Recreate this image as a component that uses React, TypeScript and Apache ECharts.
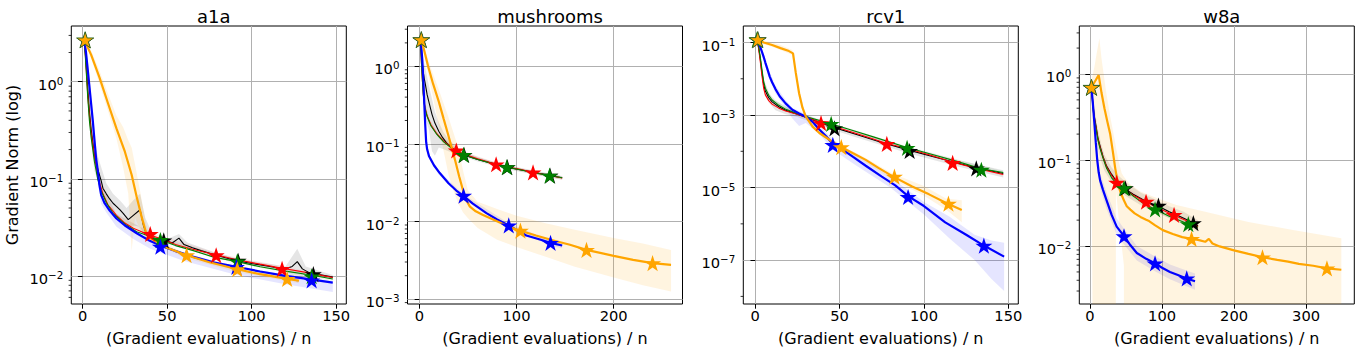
import React, { useEffect, useRef } from 'react';
import * as echarts from 'echarts';

// ---------------- data ----------------
// a1a
const a1aBlack = [[1,2.7],[2,1.6],[3,0.85],[4,0.5],[5,0.33],[6,0.24],[7,0.17],[9,0.125],[11,0.095],[12,0.08],[14,0.07],[16,0.062],[18,0.056],[20,0.052],[22,0.048],[24,0.044],[27,0.038],[30,0.042],[34,0.048],[36,0.033],[38,0.026],[42,0.024],[46,0.0235],[50,0.0228],[53,0.0218],[57,0.0245],[60,0.021],[65,0.0195],[70,0.0182],[78,0.0165],[85,0.0153],[92,0.0142],[100,0.0134],[108,0.0127],[115,0.0121],[120,0.0118],[124,0.0125],[127,0.014],[130,0.0118],[134,0.0108],[140,0.0103],[148,0.0097]];
const a1aBlackBand = [[1,2.6,2.8],[3,0.6,1.1],[5,0.24,0.45],[7,0.12,0.23],[10,0.085,0.15],[14,0.055,0.09],[18,0.045,0.07],[22,0.039,0.06],[26,0.032,0.05],[30,0.033,0.06],[34,0.032,0.07],[37,0.025,0.04],[42,0.0225,0.0255],[50,0.0215,0.024],[57,0.021,0.027],[62,0.0195,0.022],[78,0.0155,0.0175],[92,0.0135,0.015],[110,0.0122,0.0133],[120,0.0112,0.0125],[127,0.0085,0.019],[132,0.0108,0.0125],[148,0.0092,0.0102]];
const a1aBlackStars = [[1.5,2.7],[48,0.0232],[92,0.0143],[136.5,0.0104]];
const a1aRed = [[1,2.7],[2,1.5],[3,0.75],[4,0.45],[5,0.3],[7,0.17],[9,0.105],[12,0.07],[15,0.054],[20,0.042],[25,0.035],[30,0.031],[38,0.027],[45,0.0245],[55,0.021],[65,0.0188],[78,0.0166],[90,0.0148],[105,0.0132],[118,0.012],[133,0.0108],[148,0.0096]];
const a1aRedBand = [[1,2.6,2.8],[5,0.27,0.33],[10,0.085,0.1],[20,0.04,0.044],[40,0.0255,0.028],[80,0.0157,0.017],[120,0.0115,0.0124],[148,0.0092,0.0099]];
const a1aRedStars = [[1.5,2.7],[40,0.027],[79,0.0163],[118,0.0118]];
const a1aGreen = [[1,2.7],[2,1.4],[3,0.7],[4,0.4],[5,0.27],[7,0.15],[9,0.098],[11,0.075],[14,0.057],[18,0.044],[25,0.034],[32,0.0285],[40,0.0255],[46,0.0234],[55,0.0205],[65,0.0183],[78,0.0155],[91,0.0141],[105,0.0124],[120,0.0112],[135,0.0102],[148,0.0093]];
const a1aGreenBand = [[1,2.6,2.8],[5,0.24,0.3],[10,0.078,0.092],[20,0.039,0.043],[46,0.0222,0.0245],[91,0.0134,0.0148],[148,0.0088,0.0097]];
const a1aGreenStars = [[1.5,2.7],[46,0.0234],[91.5,0.0141],[135.5,0.0099]];
const a1aBlue = [[1,2.7],[2,2.0],[3,1.35],[4,0.9],[5,0.6],[6,0.4],[7,0.25],[8,0.16],[9,0.12],[10,0.085],[11,0.068],[13,0.056],[16,0.047],[20,0.039],[25,0.033],[32,0.0275],[40,0.0228],[46,0.0205],[55,0.018],[65,0.0158],[78,0.0137],[91,0.0124],[105,0.0111],[120,0.01],[135,0.0092],[148,0.0085]];
const a1aBlueBand = [[1,2.6,2.8],[3,1.0,1.7],[5,0.45,0.75],[7,0.19,0.32],[9,0.09,0.15],[11,0.055,0.08],[14,0.045,0.058],[20,0.032,0.041],[30,0.024,0.03],[40,0.019,0.0235],[60,0.0142,0.0172],[90,0.0103,0.0126],[120,0.0082,0.0103],[148,0.0068,0.0088]];
const a1aBlueStars = [[1.5,2.7],[46,0.02],[91,0.0124],[135.5,0.009]];
const a1aOrange = [[1,2.7],[5,1.9],[10,1.1],[15,0.6],[20,0.33],[25,0.19],[29,0.11],[32,0.065],[35,0.04],[37.5,0.028],[40,0.0245],[50,0.0195],[61.5,0.0163],[75,0.0138],[91.5,0.0117],[105,0.0104],[121,0.0093],[128,0.0089]];
const a1aOrangeBand = [[1,2.6,2.85],[5,1.75,2.1],[10,0.95,1.3],[15,0.5,0.75],[20,0.26,0.45],[24,0.13,0.34],[27,0.07,0.25],[29,0.018,0.21],[31,0.04,0.14],[34,0.03,0.075],[37.5,0.024,0.034],[40,0.023,0.026],[60,0.0155,0.0172],[90,0.011,0.0124],[128,0.0084,0.0094]];
const a1aOrangeStars = [[1.5,2.7],[61.5,0.0163],[91.5,0.0117],[121,0.0093]];

// mushrooms
const mushBlack = [[1,2.2],[2,1.6],[3,1.1],[4,0.85],[5,0.7],[6,0.6],[8,0.43],[10,0.34],[13,0.24],[16,0.185],[20,0.145],[24,0.12],[28,0.103],[33,0.09],[37,0.081],[46,0.072],[60,0.063],[80,0.054],[90,0.05],[105,0.046],[120,0.0425],[134,0.039],[147,0.0365]];
const mushBlackBand = [[1,2.1,2.3],[3,0.6,1.5],[5,0.25,1.1],[7,0.2,0.85],[10,0.15,0.55],[13,0.08,0.38],[16,0.07,0.26],[20,0.09,0.19],[25,0.085,0.14],[30,0.08,0.115],[40,0.072,0.087],[60,0.059,0.067],[90,0.047,0.053],[120,0.04,0.045],[147,0.0345,0.0385]];
const mushBlackStars = [[2,2.2],[46,0.072],[90.5,0.05],[134.5,0.039]];
const mushRed = [[1,2.2],[2,1.2],[3,0.7],[4,0.45],[5,0.34],[6,0.29],[8,0.23],[12,0.175],[18,0.135],[25,0.108],[32,0.092],[38,0.082],[46,0.074],[60,0.064],[79,0.0545],[90,0.0505],[105,0.0465],[117,0.0428],[134,0.039],[147,0.0363]];
const mushRedBand = [[1,2.1,2.3],[5,0.3,0.38],[10,0.18,0.21],[20,0.12,0.135],[40,0.077,0.084],[80,0.052,0.057],[120,0.04,0.044],[147,0.0345,0.038]];
const mushRedStars = [[2,2.2],[38,0.082],[79,0.0545],[117,0.0428]];
const mushGreen = [[1,2.2],[2,1.2],[3,0.7],[4,0.44],[5,0.33],[6,0.28],[8,0.225],[12,0.17],[18,0.132],[25,0.106],[32,0.09],[38,0.081],[45.5,0.072],[60,0.063],[79,0.054],[90,0.05],[105,0.046],[117,0.0425],[134,0.039],[147,0.0365]];
const mushGreenBand = [[1,2.1,2.3],[5,0.3,0.37],[10,0.18,0.21],[20,0.118,0.132],[40,0.076,0.083],[80,0.051,0.056],[120,0.04,0.044],[147,0.0347,0.0383]];
const mushGreenStars = [[2,2.2],[45.5,0.072],[90,0.05],[134,0.039]];
const mushBlue = [[1,2.2],[2,1.8],[3,1.2],[4,0.7],[5,0.35],[6,0.18],[7,0.105],[8,0.085],[10,0.069],[15,0.053],[21,0.042],[30,0.031],[38,0.025],[45,0.0215],[55,0.017],[69,0.0128],[80,0.0106],[92,0.0089],[110,0.0066],[125,0.0058],[135,0.0053],[147,0.0049]];
const mushBlueBand = [[1,2.1,2.3],[5,0.3,0.42],[7,0.09,0.12],[10,0.064,0.074],[20,0.04,0.045],[45,0.0205,0.0225],[92,0.0083,0.0095],[135,0.0049,0.0057],[147,0.0045,0.0052]];
const mushBlueStars = [[2,2.2],[45.5,0.0215],[92,0.0089],[135,0.0053]];
const mushOrange = [[2,2.2],[5,1.6],[9,1.0],[14,0.6],[20,0.35],[25,0.21],[29,0.14],[33,0.092],[37,0.06],[41,0.038],[45,0.025],[48,0.019],[52,0.0155],[58,0.0135],[65,0.0122],[73,0.011],[85,0.0094],[95,0.0083],[104,0.0076],[120,0.0066],[140,0.0056],[155,0.005],[172,0.0043],[200,0.0036],[220,0.0032],[240,0.0029],[259,0.00275]];
const mushOrangeBand = [[2,2.1,2.3],[5,1.45,1.8],[9,0.8,1.2],[14,0.4,0.8],[20,0.17,0.5],[25,0.08,0.33],[30,0.04,0.22],[35,0.025,0.14],[40,0.017,0.09],[45,0.013,0.045],[50,0.011,0.025],[60,0.0082,0.018],[80,0.0058,0.0145],[100,0.0047,0.0118],[130,0.0035,0.0095],[160,0.0026,0.0078],[200,0.0019,0.0061],[230,0.0015,0.0052],[259,0.00125,0.0043]];
const mushOrangeStars = [[2,2.2],[104,0.0076],[172,0.0043],[240,0.0029]];

// rcv1
const rcvBlack = [[1,0.12],[2,0.075],[3,0.035],[4,0.015],[5,0.007],[6,0.0046],[8,0.003],[10,0.0023],[14,0.0017],[18,0.00135],[25,0.00105],[32,0.0008],[40,0.00058],[47,0.00045],[60,0.00029],[75,0.000175],[91,0.000108],[105,0.000072],[118,0.00005],[131,0.000035],[147,0.0000245]];
const rcvBlackBand = [[1,0.11,0.13],[3,0.025,0.045],[5,0.0045,0.01],[8,0.0022,0.004],[12,0.00135,0.0025],[18,0.00105,0.0017],[25,0.00088,0.00125],[40,0.00048,0.00068],[60,0.00024,0.00034],[90,0.00009,0.00013],[120,0.000038,0.000058],[147,0.000019,0.00003]];
const rcvBlackStars = [[1.5,0.12],[47,0.00043],[91.5,0.000102],[131,0.000034]];
const rcvRed = [[1,0.12],[2,0.07],[3,0.03],[4,0.012],[5,0.0055],[6,0.0036],[8,0.0025],[10,0.002],[14,0.00155],[18,0.0013],[25,0.00105],[32,0.00082],[39,0.00062],[50,0.00043],[65,0.00026],[78,0.000165],[90,0.00012],[105,0.000075],[117,0.00005],[130,0.000035],[147,0.000023]];
const rcvRedBand = [[1,0.11,0.13],[5,0.0048,0.0063],[10,0.0018,0.0022],[25,0.00097,0.00113],[50,0.0004,0.00046],[90,0.00011,0.00013],[147,0.000021,0.000025]];
const rcvRedStars = [[1.5,0.12],[39,0.0006],[78,0.00016],[117,0.000048]];
const rcvGreen = [[1,0.12],[2,0.08],[3,0.04],[4,0.018],[5,0.0085],[6,0.0055],[8,0.0035],[10,0.0026],[14,0.00185],[18,0.00145],[25,0.0011],[32,0.00086],[45,0.00057],[55,0.00041],[70,0.00025],[90,0.000128],[105,0.000082],[120,0.000052],[134,0.000033],[147,0.000026]];
const rcvGreenBand = [[1,0.11,0.13],[5,0.0075,0.0095],[10,0.0024,0.0028],[25,0.00102,0.00118],[45,0.00053,0.00061],[90,0.000118,0.000138],[147,0.000024,0.000028]];
const rcvGreenStars = [[1,0.12],[45,0.00057],[90,0.000125],[134,0.000031]];
const rcvBlue = [[1,0.12],[2,0.1],[3,0.075],[4,0.055],[5,0.04],[6,0.028],[7,0.02],[8.6,0.0115],[10,0.008],[12,0.0052],[14.5,0.0033],[18,0.0021],[22,0.0014],[26,0.0011],[30,0.0009],[34,0.00065],[38,0.0004],[42,0.00026],[46,0.00016],[52,0.00011],[58,0.00007],[65.5,0.00004],[75,0.00002],[83,0.0000115],[90.6,0.0000058],[100,0.0000031],[112.6,0.0000011],[125,0.0000005],[135,0.00000026],[147.5,0.000000125]];
const rcvBlueBand = [[1,0.11,0.13],[4,0.045,0.065],[8,0.011,0.018],[12,0.004,0.0065],[18,0.0016,0.0026],[22,0.0008,0.0016],[26,0.0005,0.0013],[30,0.0006,0.00105],[38,0.0003,0.0005],[46,0.00011,0.00021],[60,0.00004,0.00008],[80,0.00001,0.00002],[100,0.0000018,0.000004],[115,0.0000004,0.0000016],[130,0.0000001,0.0000005],[140,0.00000003,0.00000035],[147.5,0.000000014,0.0000003]];
const rcvBlueStars = [[1.5,0.12],[46,0.00015],[90.6,0.0000055],[135.5,0.00000025]];
const rcvOrange = [[1,0.12],[5,0.1],[10,0.085],[15,0.07],[20,0.058],[22.4,0.05],[24,0.015],[26,0.004],[28,0.0016],[30,0.0009],[34,0.00048],[38,0.00032],[42,0.00024],[46,0.00018],[51,0.00013],[58,0.000088],[65.5,0.000058],[73,0.000035],[81,0.000021],[93,0.0000107],[103,0.0000065],[113.5,0.0000037],[122.4,0.0000024]];
const rcvOrangeBand = [[1,0.11,0.13],[5,0.09,0.115],[10,0.076,0.1],[15,0.062,0.085],[22,0.045,0.062],[24,0.012,0.02],[26,0.003,0.005],[30,0.0008,0.001],[40,0.00026,0.00031],[51,0.000115,0.000145],[65,0.00005,0.000067],[81,0.000017,0.000025],[100,0.000006,0.000011],[113,0.0000025,0.000005],[122.4,0.0000011,0.0000045]];
const rcvOrangeStars = [[1.5,0.12],[51,0.00013],[82.5,0.00002],[114.5,0.0000036]];

// w8a
const w8aBlack = [[2,0.7],[4,0.45],[6,0.32],[8.3,0.25],[11,0.18],[14,0.145],[18,0.11],[23,0.085],[30,0.068],[37,0.056],[47,0.047],[60,0.04],[78,0.033],[95,0.029],[110,0.025],[125,0.022],[143.5,0.0187],[150,0.0172]];
const w8aBlackBand = [[2,0.65,0.75],[6,0.25,0.4],[10,0.15,0.25],[15,0.1,0.16],[20,0.075,0.115],[30,0.055,0.082],[40,0.044,0.065],[50,0.038,0.055],[70,0.03,0.042],[90,0.025,0.035],[110,0.021,0.029],[130,0.018,0.025],[150,0.0148,0.02]];
const w8aBlackStars = [[2,0.7],[49,0.047],[95,0.0295],[143.5,0.0185]];
const w8aRed = [[2,0.7],[4,0.42],[6,0.3],[8.3,0.24],[11,0.175],[14,0.14],[18,0.108],[23,0.083],[30,0.066],[37,0.055],[47,0.046],[60,0.039],[78,0.0325],[95,0.0275],[116.7,0.0228],[135,0.0195],[150,0.0168]];
const w8aRedBand = [[2,0.66,0.74],[10,0.18,0.21],[20,0.09,0.1],[37,0.052,0.058],[78,0.031,0.034],[116.7,0.0217,0.024],[150,0.016,0.0176]];
const w8aRedStars = [[2,0.7],[37,0.0545],[77.8,0.0327],[116.7,0.023]];
const w8aGreen = [[2,0.7],[4,0.4],[6,0.29],[8.3,0.23],[11,0.17],[14,0.135],[18,0.105],[23,0.08],[30,0.062],[37,0.053],[47.2,0.047],[60,0.038],[75,0.031],[90,0.0267],[110,0.0222],[136.5,0.018],[150,0.0165]];
const w8aGreenBand = [[2,0.66,0.74],[10,0.17,0.2],[20,0.088,0.098],[37,0.05,0.056],[75,0.0295,0.0325],[110,0.021,0.0233],[150,0.0157,0.0173]];
const w8aGreenStars = [[2,0.7],[47.2,0.047],[90.3,0.0267],[136.5,0.018]];
const w8aBlue = [[2,0.7],[4,0.45],[6,0.27],[8,0.16],[10,0.1],[12,0.072],[14,0.058],[18,0.045],[23,0.034],[30,0.023],[37,0.0168],[47,0.0131],[55,0.0105],[65,0.0083],[78,0.0071],[90,0.0063],[100,0.0056],[111,0.005],[122,0.0046],[134,0.0042],[145.8,0.0039]];
const w8aBlueBand = [[2,0.65,0.75],[6,0.22,0.33],[10,0.08,0.125],[14,0.047,0.07],[23,0.027,0.042],[37,0.0135,0.021],[47,0.0105,0.016],[65,0.0068,0.01],[90,0.0051,0.0076],[111,0.0041,0.0061],[134,0.0034,0.0052],[145.8,0.0031,0.0048]];
const w8aBlueStars = [[2,0.7],[47.2,0.013],[90.3,0.0063],[134.3,0.0042]];
const w8aOrange = [[2,0.7],[8,0.85],[12,0.97],[16,0.6],[20,0.4],[24,0.28],[28,0.2],[32,0.12],[35,0.08],[38,0.058],[42,0.043],[47,0.034],[51,0.029],[56,0.0265],[62,0.024],[70,0.0218],[78,0.0202],[82,0.0195],[90,0.0175],[101,0.0153],[115,0.0138],[128,0.0127],[141,0.0121],[150,0.0118],[160,0.0112],[165,0.0121],[170,0.0107],[180,0.0099],[200,0.0089],[220,0.0081],[240,0.0074],[260,0.0069],[275,0.0066],[290,0.0062],[310,0.0059],[329,0.0055],[349,0.0053]];
const w8aOrangeBand = [[1.5,0.6,0.8],[6,0.000001,1.2],[9,0.000001,1.7],[13,0.000001,2.6],[16,0.000001,1.5],[22,0.000001,0.65],[28,0.000001,0.32],[35.5,0.000001,0.15],[36,0.045,0.14],[40,0.02,0.095],[44,0.01,0.07],[47,0.006,0.064],[47.5,0.000001,0.063],[55,0.000001,0.053],[70,0.000001,0.043],[90,0.000001,0.037],[120,0.000001,0.03],[160,0.000001,0.025],[220,0.000001,0.019],[280,0.000001,0.0155],[349,0.000001,0.0123]];
const w8aOrangeStars = [[2,0.7],[141,0.0121],[239.5,0.0074],[329,0.0055]];

// titles and ticks
const titles = ['a1a', 'mushrooms', 'rcv1', 'w8a'];
const xTicks = [[0, 50, 100, 150], [0, 100, 200], [0, 50, 100, 150], [0, 100, 200, 300]];
const yTicks = [[1e-2, 1e-1, 1], [1e-3, 1e-2, 1e-1, 1], [1e-7, 1e-5, 1e-3, 1e-1], [1e-2, 1e-1, 1]];
const xRange = [[-6.7, 156], [-12.2, 270.8], [-7.06, 155.9], [-14.9, 367]];
const yRange = [[0.00513, 3.75], [0.000863, 3.3], [6.17e-9, 0.285], [0.00212, 3.61]];
const minorTicks = [
  [0.006, 0.007, 0.008, 0.009, 0.02, 0.03, 0.04, 0.05, 0.06, 0.07, 0.08, 0.09, 0.2, 0.3, 0.4, 0.5, 0.6, 0.7, 0.8, 0.9, 2, 3],
  [0.0009, 0.002, 0.003, 0.004, 0.005, 0.006, 0.007, 0.008, 0.009, 0.02, 0.03, 0.04, 0.05, 0.06, 0.07, 0.08, 0.09, 0.2, 0.3, 0.4, 0.5, 0.6, 0.7, 0.8, 0.9, 2, 3],
  [1e-8, 1e-6, 1e-4, 1e-2],
  [0.003, 0.004, 0.005, 0.006, 0.007, 0.008, 0.009, 0.02, 0.03, 0.04, 0.05, 0.06, 0.07, 0.08, 0.09, 0.2, 0.3, 0.4, 0.5, 0.6, 0.7, 0.8, 0.9, 2, 3],
];

const panels = [
  { lines: [a1aBlack, a1aRed, a1aGreen, a1aBlue, a1aOrange], bands: [a1aBlackBand, a1aRedBand, a1aGreenBand, a1aBlueBand, a1aOrangeBand], stars: [a1aBlackStars, a1aRedStars, a1aGreenStars, a1aBlueStars, a1aOrangeStars] },
  { lines: [mushBlack, mushRed, mushGreen, mushBlue, mushOrange], bands: [mushBlackBand, mushRedBand, mushGreenBand, mushBlueBand, mushOrangeBand], stars: [mushBlackStars, mushRedStars, mushGreenStars, mushBlueStars, mushOrangeStars] },
  { lines: [rcvBlack, rcvRed, rcvGreen, rcvBlue, rcvOrange], bands: [rcvBlackBand, rcvRedBand, rcvGreenBand, rcvBlueBand, rcvOrangeBand], stars: [rcvBlackStars, rcvRedStars, rcvGreenStars, rcvBlueStars, rcvOrangeStars] },
  { lines: [w8aBlack, w8aRed, w8aGreen, w8aBlue, w8aOrange], bands: [w8aBlackBand, w8aRedBand, w8aGreenBand, w8aBlueBand, w8aOrangeBand], stars: [w8aBlackStars, w8aRedStars, w8aGreenStars, w8aBlueStars, w8aOrangeStars] },
];

// ---------------- styles ----------------
const FONT = 'DejaVu Sans';
const TICK_FS = 14.67;
const LABEL_FS = 16;
const TITLE_FS = 18;
const COLORS = ['#000000', '#ff0000', '#008000', '#0000ff', '#ffa500'];
const BAND_COLORS = ['rgba(0,0,0,0.1)', 'rgba(255,0,0,0.07)', 'rgba(0,128,0,0.07)', 'rgba(0,0,255,0.1)', 'rgba(255,165,0,0.12)'];
const WIDTHS = [1.1, 1.1, 1.1, 2.2, 2.2];
const GRID_LEFT = [71.3, 407.5, 743.3, 1079.3];
const GRID_TOP = 26;
const GRID_W = 275;
const GRID_H = 278;

const starPts: string[] = [];
for (let i = 0; i < 10; i++) {
  const r = i % 2 === 0 ? 1 : 0.382;
  const a = -Math.PI / 2 + (i * Math.PI) / 5;
  starPts.push(`${(r * Math.cos(a)).toFixed(4)},${(r * Math.sin(a)).toFixed(4)}`);
}
const STAR = 'path://M' + starPts.join('L') + 'Z';

const supFmt = (v: number) => {
  const e = Math.round(Math.log10(v));
  const s = e < 0 ? '\u2212' + -e : String(e);
  return `{b|10}{s|${s}}`;
};

function buildOption() {
  const grid: any[] = [];
  const xAxis: any[] = [];
  const yAxis: any[] = [];
  const title: any[] = [];
  const series: any[] = [];

  panels.forEach((p, g) => {
    grid.push({ left: GRID_LEFT[g], top: GRID_TOP, width: GRID_W, height: GRID_H, show: true, borderColor: '#000', borderWidth: 1, backgroundColor: 'transparent' });
    title.push({ text: titles[g], left: GRID_LEFT[g] + GRID_W / 2, top: 2, textAlign: 'center', textStyle: { fontSize: TITLE_FS, fontWeight: 'normal', fontFamily: FONT, color: '#000' } });
    xAxis.push({
      type: 'value', gridIndex: g, min: xRange[g][0], max: xRange[g][1],
      axisLine: { show: false },
      axisTick: { show: true, length: 4.7, lineStyle: { color: '#000', width: 1 }, customValues: xTicks[g] },
      axisLabel: { customValues: xTicks[g], fontSize: TICK_FS, color: '#000', fontFamily: FONT, margin: 4 },
      splitLine: { show: true, lineStyle: { color: '#b0b0b0', width: 1 } },
      name: '(Gradient evaluations) / n', nameLocation: 'middle', nameGap: 26,
      nameTextStyle: { fontSize: LABEL_FS, color: '#000', fontFamily: FONT },
    });
    yAxis.push({
      type: 'log', logBase: 10, gridIndex: g, min: yRange[g][0], max: yRange[g][1],
      axisLine: { show: false },
      axisTick: { show: true, length: 4.7, lineStyle: { color: '#000', width: 1 }, customValues: yTicks[g] },
      axisLabel: {
        customValues: yTicks[g], formatter: supFmt, margin: 8, padding: [5.4, 0, 0, 0],
        rich: {
          b: { fontSize: TICK_FS, lineHeight: 17, fontFamily: FONT, color: '#000' },
          s: { fontSize: 10.3, lineHeight: 5.4, verticalAlign: 'top', fontFamily: FONT, color: '#000' },
        },
      },
      splitLine: { show: true, lineStyle: { color: '#b0b0b0', width: 1 } },
      name: g === 0 ? 'Gradient Norm (log)' : '', nameLocation: 'middle', nameGap: 51, nameRotate: 90,
      nameTextStyle: { fontSize: LABEL_FS, color: '#000', fontFamily: FONT },
    });

    // minor ticks of the log axis
    series.push({
      type: 'custom', xAxisIndex: g, yAxisIndex: g, silent: true, clip: false, z: 5,
      data: minorTicks[g].map((v) => [xRange[g][0], v]),
      renderItem: (_params: any, api: any) => {
        const c = api.coord([api.value(0), api.value(1)]);
        return { type: 'line', shape: { x1: c[0] - 2.7, y1: c[1], x2: c[0], y2: c[1] }, style: { stroke: '#000', lineWidth: 0.8 } };
      },
    });

    // shaded bands
    p.bands.forEach((band, m) => {
      series.push({
        type: 'custom', xAxisIndex: g, yAxisIndex: g, silent: true, clip: true, z: 1,
        data: [[band[0][0], band[0][2]]],
        renderItem: (_params: any, api: any) => {
          const pts: number[][] = [];
          band.forEach((b) => pts.push(api.coord([b[0], b[2]])));
          for (let i = band.length - 1; i >= 0; i--) pts.push(api.coord([band[i][0], band[i][1]]));
          return { type: 'polygon', shape: { points: pts }, style: { fill: BAND_COLORS[m] } };
        },
      });
    });

    // lines and star markers
    p.lines.forEach((line, m) => {
      series.push({
        type: 'line', xAxisIndex: g, yAxisIndex: g, data: line, showSymbol: false, symbol: 'none',
        lineStyle: { color: COLORS[m], width: WIDTHS[m] }, z: 2, silent: true, clip: true,
      });
      series.push({
        type: 'scatter', xAxisIndex: g, yAxisIndex: g, symbol: STAR, symbolSize: 17, symbolKeepAspect: true,
        itemStyle: { color: COLORS[m], opacity: 1 }, z: 2, silent: true,
        data: p.stars[m].map((s, i) => (m === 4 && i === 0 ? { value: s, itemStyle: { borderColor: '#2d6a1f', borderWidth: 0.9 } } : s)),
      });
    });
  });

  return { animation: false, backgroundColor: '#fff', title, grid, xAxis, yAxis, series };
}

export default function App() {
  const ref = useRef<HTMLDivElement>(null);
  useEffect(() => {
    const chart = echarts.init(ref.current!, null, { renderer: 'svg' });
    chart.setOption(buildOption());
    return () => chart.dispose();
  }, []);
  return <div ref={ref} style={{ position: 'fixed', left: 0, top: 0, width: 1360, height: 352, background: '#fff' }} />;
}
